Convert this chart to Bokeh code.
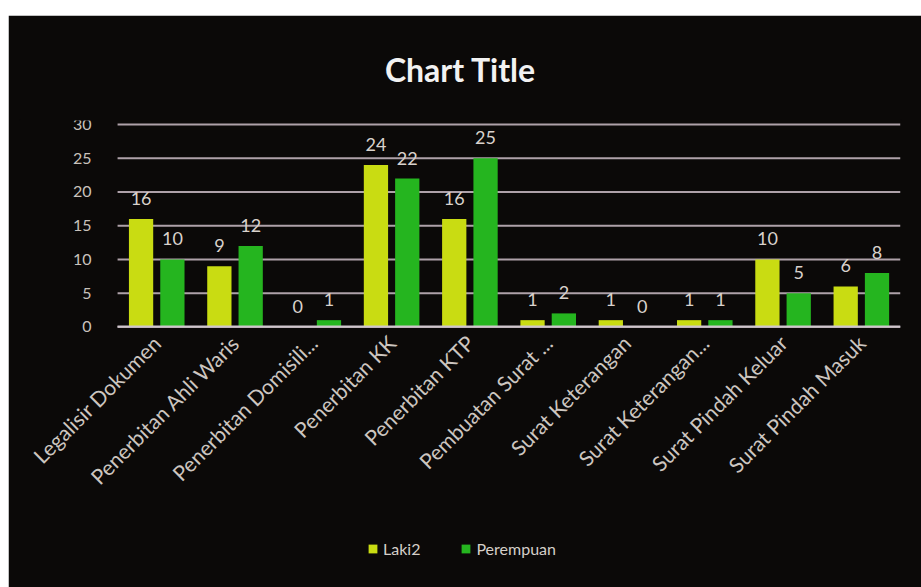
from bokeh.plotting import figure
from bokeh.models import ColumnDataSource, Legend, LegendItem, Range1d
from bokeh.transform import dodge
from bokeh.core.properties import value
from bokeh.embed import file_html
from bokeh.resources import INLINE
import math

categories = ["Legalisir Dokumen", "Penerbitan Ahli Waris", "Penerbitan Domisili...",
              "Penerbitan KK", "Penerbitan KTP", "Pembuatan Surat ...",
              "Surat Keterangan", "Surat Keterangan...", "Surat Pindah Keluar",
              "Surat Pindah Masuk"]
laki2 = [16, 9, 0, 24, 16, 1, 1, 1, 10, 6]
perempuan = [10, 12, 1, 22, 25, 2, 0, 1, 5, 8]
y_ticks = [0, 5, 10, 15, 20, 25, 30]

idx = list(range(len(categories)))
src = ColumnDataSource(dict(
    idx=idx, cat=categories,
    laki=laki2, laki_s=[str(v) for v in laki2],
    per=perempuan, per_s=[str(v) for v in perempuan],
))

FONT = "Lato"
BG = "#0b0908"

p = figure(x_range=Range1d(-1.74, 9.5), y_range=Range1d(-37.6, 30.6),
           width=913, height=572,
           output_backend="svg", toolbar_location=None,
           title="Chart Title",
           min_border_left=12, min_border_right=21, min_border_top=99,
           min_border_bottom=7)
p.margin = (15, 0, 0, 8)
p.background_fill_color = BG
p.border_fill_color = BG
p.outline_line_color = BG
p.outline_line_width = 3

p.title.align = "center"
p.title.offset = 8
p.title.text_font = FONT
p.title.text_font_size = "32px"
p.title.text_font_style = "bold"
p.title.text_color = "#f2f2f2"
p.title.standoff = 64

# horizontal gridlines at the y tick values, spanning the category area only
p.segment(x0=-0.5, x1=9.5, y0=y_ticks, y1=y_ticks, line_color="#cbbcc6",
          line_alpha=0.85, line_width=2, level="underlay")

r1 = p.vbar(x=dodge("idx", -0.2), top="laki", width=0.31, source=src,
            fill_color="#c9dc12", line_color=None)
r2 = p.vbar(x=dodge("idx", 0.2), top="per", width=0.31, source=src,
            fill_color="#25b51f", line_color=None)

for off, col, txt in [(-0.2, "laki", "laki_s"), (0.2, "per", "per_s")]:
    p.text(x=dodge("idx", off), y=col, text=txt, source=src,
           text_align="center", text_baseline="bottom", y_offset=-14,
           text_font=value(FONT), text_font_size="18px", text_color="#d9d2cc")

p.xgrid.grid_line_color = None
p.ygrid.grid_line_color = None

p.yaxis.fixed_location = -0.5
p.yaxis.ticker = y_ticks
p.yaxis.axis_line_color = None
p.yaxis.major_tick_line_color = None
p.yaxis.minor_tick_line_color = None
p.yaxis.major_label_text_font = FONT
p.yaxis.major_label_text_font_size = "16px"
p.yaxis.major_label_text_color = "#c9c2bc"
p.yaxis.major_label_standoff = 20

p.xaxis.fixed_location = 0
p.xaxis.ticker = idx
p.xaxis.bounds = (-0.5, 9.5)
p.xaxis.major_label_overrides = {i: c for i, c in zip(idx, categories)}
p.xaxis.axis_line_color = "#cfc6cc"
p.xaxis.axis_line_width = 2
p.xaxis.major_tick_line_color = None
p.xaxis.minor_tick_line_color = None
p.xaxis.major_label_orientation = math.pi / 4
p.xaxis.major_label_text_font = FONT
p.xaxis.major_label_text_font_size = "21px"
p.xaxis.major_label_text_color = "#cdc6c0"
p.xaxis.major_label_standoff = 6

legend = Legend(items=[LegendItem(label="Laki2", renderers=[r1]),
                       LegendItem(label="Perempuan", renderers=[r2])],
                orientation="horizontal", location=(347, 22),
                background_fill_alpha=0, border_line_color=None,
                label_text_font=FONT, label_text_font_size="16px",
                label_text_color="#d5cfc9", glyph_width=11, glyph_height=11,
                spacing=40, margin=0, padding=6)
p.add_layout(legend)

open("out.html", "w").write(file_html(p, INLINE))
